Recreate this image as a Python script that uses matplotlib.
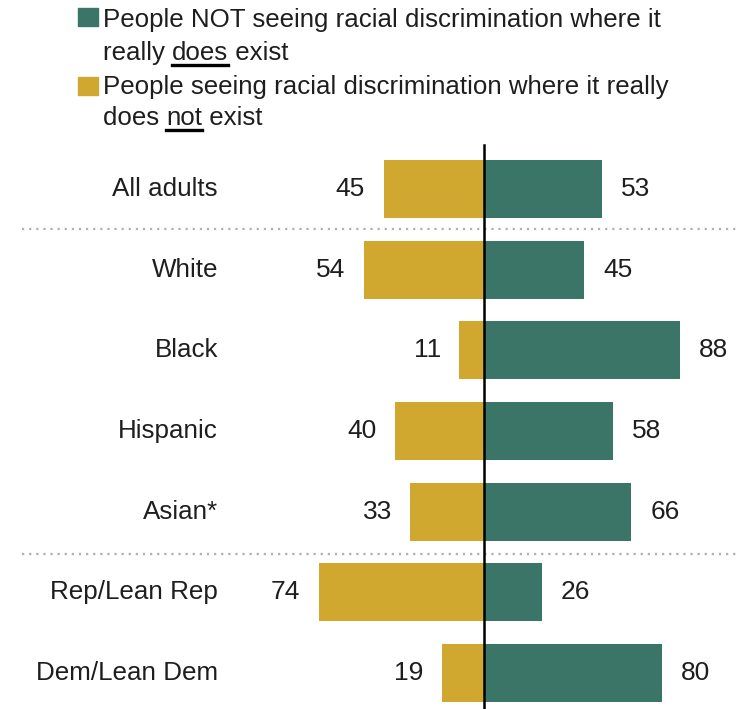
import matplotlib.pyplot as plt

categories = ['All adults', 'White', 'Black', 'Hispanic', 'Asian*',
              'Rep/Lean Rep', 'Dem/Lean Dem']
not_seeing = [53, 45, 88, 58, 66, 26, 80]   # green, right side
seeing = [45, 54, 11, 40, 33, 74, 19]       # gold, left side

green = '#3a7567'
gold = '#d1a82f'

plt.rcParams['font.family'] = ['Liberation Sans', 'DejaVu Sans']
fs_cat = 18.7
fs_num = 19
fs_leg = 18.6
tc = '#1e1e1e'

fig = plt.figure(figsize=(7.38, 7.09), dpi=100)
ax = fig.add_axes([0, 0, 1, 1])
ax.set_xlim(-217.0, 113.9)
ax.set_ylim(6.446, -2.343)
ax.axis('off')

ys = list(range(len(categories)))
ax.barh(ys, not_seeing, height=0.72, color=green)
ax.barh(ys, [-v for v in seeing], height=0.72, color=gold)

for y, cat, g, s in zip(ys, categories, not_seeing, seeing):
    ax.text(-119.3, y, cat, ha='right', va='center', fontsize=fs_cat, color=tc)
    ax.text(g + 8.5, y, str(g), ha='left', va='center', fontsize=fs_num, color=tc)
    ax.text(-s - 8.3, y, str(s), ha='right', va='center', fontsize=fs_num, color=tc)

# dotted separators
for yy in [0.5, 4.53]:
    ax.plot([-207, 113.9], [yy, yy], color='#b0b0b0', lw=1.6,
            linestyle=(0, (1, 2.2)))

ax.plot([0, 0], [-0.545, 6.446], color='black', lw=1.8)

# legend with underlined words
W, H = 738, 709
fig.patches.append(plt.Rectangle((78 / W, 1 - 26 / H), 20 / W, 18 / H,
                                 transform=fig.transFigure, color=green))
fig.patches.append(plt.Rectangle((78 / W, 1 - 95 / H), 20 / W, 18 / H,
                                 transform=fig.transFigure, color=gold))

renderer = fig.canvas.get_renderer()


def line_with_underline(x, y, parts):
    # parts: list of (text, underline)
    for txt, ul in parts:
        t = fig.text(x, y, txt, fontsize=fs_leg, va='baseline', ha='left',
                     color=tc)
        bb = t.get_window_extent(renderer=renderer)
        if ul:
            fig.add_artist(plt.Line2D([bb.x0 / W, bb.x1 / W],
                                      [y - 4.5 / H, y - 4.5 / H],
                                      transform=fig.transFigure,
                                      color='black', lw=2.4))
        x = bb.x1 / W


tx = 103 / W
line_with_underline(tx, 1 - 27 / H,
                    [('People NOT seeing racial discrimination where it', False)])
line_with_underline(tx, 1 - 60 / H,
                    [('really ', False), ('does', True), (' exist', False)])
line_with_underline(tx, 1 - 94 / H,
                    [('People seeing racial discrimination where it really', False)])
line_with_underline(tx, 1 - 125 / H,
                    [('does ', False), ('not', True), (' exist', False)])

fig.savefig('out.png', dpi=100)
